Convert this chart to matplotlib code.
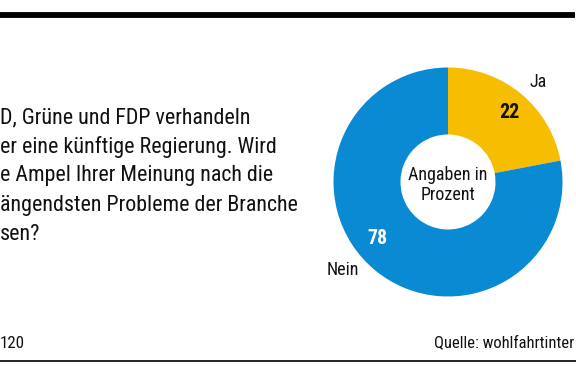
import os
import matplotlib
matplotlib.use("Agg")
import matplotlib.pyplot as plt
from matplotlib import font_manager as fm

# Umfrage: Ja / Nein in Prozent
labels = ["Ja", "Nein"]
values = [22, 78]
colors = ["#f7bd00", "#0a8ad2"]

question = ["D, Grüne und FDP verhandeln",
            "er eine künftige Regierung. Wird",
            "e Ampel Ihrer Meinung nach die",
            "ängendsten Probleme der Branche",
            "sen?"]
center_text = "Angaben in\nProzent"
footer_left = "120"
footer_right = "Quelle: wohlfahrtinter"


def pick_font(bold=False):
    # the original uses a condensed grotesk - look for any narrow face installed
    prefs = ["LiberationSansNarrow", "RobotoCondensed", "OpenSansCondensed", "DejaVuSansCondensed"]
    files = [f.fname for f in fm.fontManager.ttflist]
    for p in prefs:
        for f in files:
            b = os.path.basename(f).replace("-", "").replace("_", "")
            if not b.startswith(p) or "Italic" in b or "Oblique" in b:
                continue
            isbold = "Bold" in b and "SemiBold" not in b and "ExtraBold" not in b
            if isbold == bold and "Light" not in b and "Thin" not in b and "Medium" not in b and "Black" not in b:
                return f
    return None


reg = pick_font()
bld = pick_font(True)


def fp(size, bold=False):
    f = bld if bold else reg
    if f:
        return fm.FontProperties(fname=f, size=size)
    return fm.FontProperties(family="DejaVu Sans", stretch="condensed",
                             weight="bold" if bold else "normal", size=size)


W, H = 576, 381
fig = plt.figure(figsize=(W / 100, H / 100), dpi=100)
renderer = fig.canvas.get_renderer()

# donut
cx, cy, r = 448, 182, 114.5
ax = fig.add_axes([(cx - r) / W, 1 - (cy + r) / H, 2 * r / W, 2 * r / H])
ax.pie(values, colors=colors, startangle=90, counterclock=False, radius=1,
       wedgeprops=dict(width=1 - 47.5 / 114.5, edgecolor="none"))
ax.set_xlim(-1, 1)
ax.set_ylim(-1, 1)
ax.set_aspect("equal")
ax.axis("off")

# overlay in pixel coordinates for rules and texts
bg = fig.add_axes([0, 0, 1, 1])
bg.set_zorder(5)
bg.set_xlim(0, W)
bg.set_ylim(H, 0)
bg.axis("off")

bg.plot([0, 575], [15, 15], color="black", lw=4.2, solid_capstyle="butt")
bg.plot([0, 576], [360.5, 360.5], color="black", lw=1.2, solid_capstyle="butt")


def fit(s, width, bold=False):
    # font size that gives the string roughly the width seen in the original
    t = bg.text(0, 0, s, fontproperties=fp(14, bold))
    w = t.get_window_extent(renderer).width
    t.remove()
    return 14 * width / w


qsize = fit(question[3], 300)
for i, line in enumerate(question):
    bg.text(0, 118 + i * 29, line, fontproperties=fp(qsize), va="center", ha="left", color="#111111")

bg.text(0, 343, footer_left, fontproperties=fp(fit(footer_left, 25)), va="center", ha="left", color="#111111")
bg.text(434, 343, footer_right, fontproperties=fp(fit(footer_right, 141)), va="center", ha="left",
        color="#111111")

lsize = fit("Angaben in", 80)
bg.text(cx, 185, center_text, fontproperties=fp(lsize), ha="center", va="center",
        linespacing=1.2, color="#111111")
nsize = fit("22", 20, True)
bg.text(509, 113, str(values[0]), fontproperties=fp(nsize, True), ha="center", va="center", color="#111111")
bg.text(377, 239, str(values[1]), fontproperties=fp(nsize, True), ha="center", va="center", color="white")
bg.text(538, 82, labels[0], fontproperties=fp(lsize), ha="center", va="center", color="#111111")
bg.text(343, 270, labels[1], fontproperties=fp(lsize), ha="center", va="center", color="#111111")

fig.savefig("out.png", dpi=100)
